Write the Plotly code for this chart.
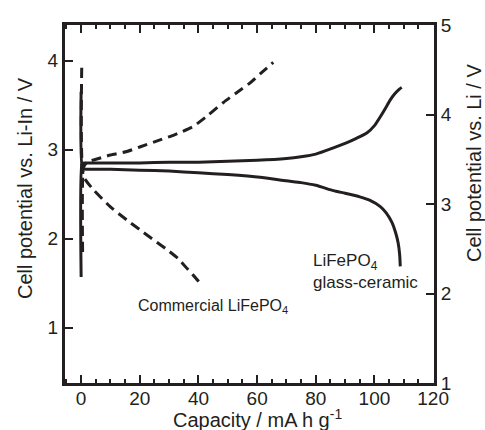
import plotly.graph_objects as go

# Glass-ceramic LiFePO4 (solid)
gc_charge_cap = [0, 0.3, 1, 3, 10, 20, 30, 40, 50, 60, 70, 75, 80, 86, 90, 94, 97.5, 100, 102, 104, 105.4, 107, 108.5, 109.3]
gc_charge_v = [1.57, 2.84, 2.85, 2.85, 2.85, 2.85, 2.86, 2.86, 2.87, 2.88, 2.90, 2.92, 2.95, 3.02, 3.07, 3.13, 3.19, 3.27, 3.37, 3.48, 3.56, 3.63, 3.68, 3.70]
gc_dis_cap = [0, 0.5, 2, 10, 20, 30, 40, 50, 61, 70, 75, 80, 86, 90, 95, 98.5, 102, 104, 106, 107.2, 108.1, 108.6, 108.8]
gc_dis_v = [3.65, 2.79, 2.78, 2.78, 2.77, 2.76, 2.74, 2.72, 2.69, 2.65, 2.63, 2.60, 2.54, 2.51, 2.47, 2.43, 2.36, 2.29, 2.18, 2.07, 1.95, 1.82, 1.69]

# Commercial LiFePO4 (dashed)
cm_charge_cap = [0.5, 0.8, 2, 4.8, 10, 15.6, 20, 26.9, 32, 38.2, 43, 48.5, 53, 57.6, 62, 65.5]
cm_charge_v = [1.85, 2.80, 2.86, 2.89, 2.94, 2.98, 3.03, 3.11, 3.17, 3.26, 3.38, 3.53, 3.64, 3.75, 3.88, 3.98]
cm_dis_cap = [0.2, 0.8, 4.2, 9.9, 15.6, 21.3, 25, 29.2, 33, 36, 38.5, 40.6]
cm_dis_v = [3.92, 2.70, 2.55, 2.36, 2.21, 2.07, 1.98, 1.88, 1.78, 1.67, 1.58, 1.50]

x_ticks = [0, 20, 40, 60, 80, 100, 120]
left_ticks = [1, 2, 3, 4]
right_ticks = [1, 2, 3, 4, 5]

INK = "#231f20"
FONT = "Liberation Sans, Arial, Helvetica, sans-serif"

fig = go.Figure()
solid = dict(color=INK, width=3, shape="spline", smoothing=0.5)
dashed = dict(color=INK, width=3, dash="10px,6px", shape="spline", smoothing=0.5)
for xs, ys, ln in [(gc_charge_cap, gc_charge_v, solid), (gc_dis_cap, gc_dis_v, solid),
                   (cm_charge_cap, cm_charge_v, dashed), (cm_dis_cap, cm_dis_v, dashed)]:
    fig.add_trace(go.Scatter(x=xs, y=ys, mode="lines", line=ln, showlegend=False, hoverinfo="skip"))

# invisible trace to activate right axis
fig.add_trace(go.Scatter(x=[60], y=[3], yaxis="y2", mode="markers", marker=dict(opacity=0),
                         showlegend=False, hoverinfo="skip"))

axis_common = dict(showline=True, linecolor=INK, linewidth=3, ticks="inside", tickcolor=INK,
                   tickwidth=2, ticklen=8, showgrid=False, zeroline=False,
                   tickfont=dict(family=FONT, size=19, color=INK))

fig.update_layout(
    width=485, height=430,
    margin=dict(l=65, r=51, t=25, b=47),
    paper_bgcolor="white", plot_bgcolor="white",
    font=dict(family=FONT, color=INK),
    xaxis=dict(range=[-5.5, 120.3], tickvals=x_ticks, mirror="ticks", ticklabelstandoff=-4,
               minor=dict(dtick=5, tick0=0, ticks="inside", ticklen=4, tickwidth=2, tickcolor=INK),
               **axis_common),
    yaxis=dict(range=[0.38, 4.4], tickvals=left_ticks, mirror=False, **axis_common),
    yaxis2=dict(range=[1, 5], tickvals=right_ticks, overlaying="y", side="right", **axis_common),
    annotations=[
        dict(x=18.7, y=1.24, xref="x", yref="y", text="Commercial LiFePO<sub>4</sub>",
             showarrow=False, xanchor="left", yanchor="middle",
             font=dict(family=FONT, size=16, color=INK)),
        dict(x=78.3, y=1.63, xref="x", yref="y", text="LiFePO<sub>4</sub><br>glass-ceramic",
             showarrow=False, xanchor="left", yanchor="middle", align="left",
             font=dict(family=FONT, size=17, color=INK)),
        dict(x=0.523, y=-0.099, xref="paper", yref="paper", text="Capacity / mA h g<sup>-1</sup>",
             showarrow=False, xanchor="center", yanchor="middle",
             font=dict(family=FONT, size=20, color=INK)),
        dict(x=-0.108, y=0.545, xref="paper", yref="paper", text="Cell potential vs. Li-In / V",
             showarrow=False, xanchor="center", yanchor="middle", textangle=-90,
             font=dict(family=FONT, size=20, color=INK)),
        dict(x=1.109, y=0.615, xref="paper", yref="paper", text="Cell potential vs. Li / V",
             showarrow=False, xanchor="center", yanchor="middle", textangle=-90,
             font=dict(family=FONT, size=20, color=INK)),
    ],
)

fig.write_html("out.html", config={"displayModeBar": False},
               post_script="document.body.style.margin='0px';")
